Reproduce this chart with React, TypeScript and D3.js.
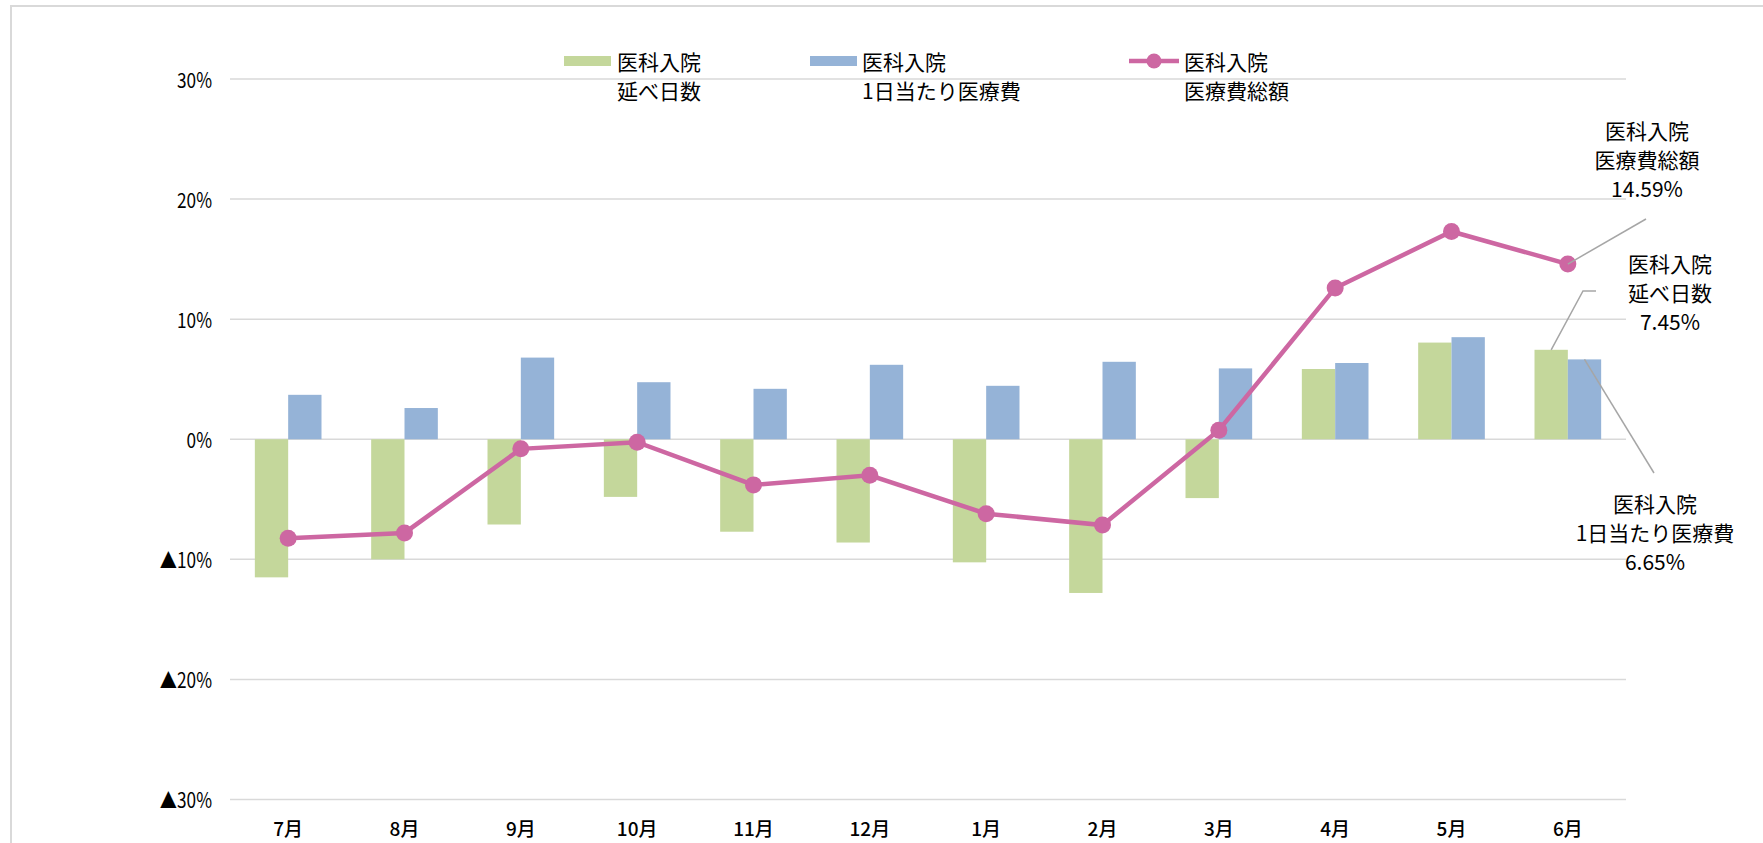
import React, { useEffect, useRef } from "react";
import * as d3 from "d3";

// データ（前年同月比, %）
const months = ["7月", "8月", "9月", "10月", "11月", "12月", "1月", "2月", "3月", "4月", "5月", "6月"];
const nissu = [-11.5, -10.0, -7.1, -4.8, -7.7, -8.6, -10.25, -12.8, -4.9, 5.85, 8.05, 7.45];
const ichinichi = [3.7, 2.6, 6.8, 4.75, 4.2, 6.2, 4.45, 6.45, 5.9, 6.35, 8.5, 6.65];
const sogaku = [-8.25, -7.8, -0.8, -0.25, -3.8, -3.0, -6.2, -7.15, 0.75, 12.6, 17.3, 14.59];
const yTicks = [30, 20, 10, 0, -10, -20, -30];

const GREEN = "#c4d79b";
const BLUE = "#95b3d7";
const PINK = "#cd67a2";
const GRID = "#d9d9d9";
const FONT = "'Noto Sans CJK JP', 'Noto Sans', sans-serif";

const Chart = () => {
  const svgRef = useRef<SVGSVGElement>(null);

  useEffect(() => {
    if (svgRef.current) drawChart();
  }, []);

  const drawChart = () => {
    const svg = d3.select(svgRef.current);
    svg.selectAll("*").remove();

    const x = d3.scaleBand().domain(months).range([230, 1626]).padding(0);
    const y = d3.scaleLinear().domain([-30, 30]).range([799.5, 79]);
    const barW = x.bandwidth() * 0.2865;
    const cx = (m: string) => (x(m) as number) + x.bandwidth() / 2;

    // 枠
    svg
      .append("path")
      .attr("d", "M11,843 V6 H1763")
      .attr("fill", "none")
      .attr("stroke", GRID)
      .attr("stroke-width", 2);

    // グリッド
    svg
      .append("g")
      .selectAll("line")
      .data(yTicks)
      .enter()
      .append("line")
      .attr("x1", 230)
      .attr("x2", 1626)
      .attr("y1", (d) => y(d))
      .attr("y2", (d) => y(d))
      .attr("stroke", GRID)
      .attr("stroke-width", 1.5);

    // Y軸ラベル
    svg
      .append("g")
      .selectAll("text")
      .data(yTicks)
      .enter()
      .append("text")
      .attr("transform", (d) => `translate(212, ${y(d)}) scale(0.82, 1)`)
      .attr("text-anchor", "end")
      .attr("dominant-baseline", "central")
      .attr("font-family", FONT)
      .attr("font-size", 21)
      .attr("fill", "#000")
      .text((d) => (d < 0 ? `▲${-d}%` : `${d}%`));

    // X軸ラベル
    svg
      .append("g")
      .selectAll("text")
      .data(months)
      .enter()
      .append("text")
      .attr("x", (d) => cx(d))
      .attr("y", 827)
      .attr("text-anchor", "middle")
      .attr("dominant-baseline", "central")
      .attr("font-family", FONT)
      .attr("font-size", 19)
      .attr("font-weight", 500)
      .attr("fill", "#000")
      .text((d) => d);

    // 棒（延べ日数）
    svg
      .append("g")
      .selectAll("rect")
      .data(nissu)
      .enter()
      .append("rect")
      .attr("x", (d, i) => cx(months[i]) - barW)
      .attr("y", (d) => y(Math.max(0, d)))
      .attr("width", barW)
      .attr("height", (d) => Math.abs(y(d) - y(0)))
      .attr("fill", GREEN);

    // 棒（1日当たり医療費）
    svg
      .append("g")
      .selectAll("rect")
      .data(ichinichi)
      .enter()
      .append("rect")
      .attr("x", (d, i) => cx(months[i]))
      .attr("y", (d) => y(Math.max(0, d)))
      .attr("width", barW)
      .attr("height", (d) => Math.abs(y(d) - y(0)))
      .attr("fill", BLUE);

    // 折れ線（医療費総額）
    const line = d3
      .line<number>()
      .x((d, i) => cx(months[i]))
      .y((d) => y(d));

    svg
      .append("path")
      .datum(sogaku)
      .attr("d", line)
      .attr("fill", "none")
      .attr("stroke", PINK)
      .attr("stroke-width", 4.5);

    svg
      .append("g")
      .selectAll("circle")
      .data(sogaku)
      .enter()
      .append("circle")
      .attr("cx", (d, i) => cx(months[i]))
      .attr("cy", (d) => y(d))
      .attr("r", 8.5)
      .attr("fill", PINK);

    // 凡例
    const legend = svg.append("g").attr("font-family", FONT).attr("font-size", 21).attr("fill", "#000");
    legend.append("rect").attr("x", 564).attr("y", 56).attr("width", 47).attr("height", 10).attr("fill", GREEN);
    legend.append("rect").attr("x", 810).attr("y", 56).attr("width", 47).attr("height", 10).attr("fill", BLUE);
    legend
      .append("line")
      .attr("x1", 1129)
      .attr("x2", 1179)
      .attr("y1", 61)
      .attr("y2", 61)
      .attr("stroke", PINK)
      .attr("stroke-width", 4.5);
    legend.append("circle").attr("cx", 1154).attr("cy", 61).attr("r", 7.5).attr("fill", PINK);

    const legendItems = [
      { x: 617, lines: ["医科入院", "延べ日数"] },
      { x: 862, lines: ["医科入院", "1日当たり医療費"] },
      { x: 1184, lines: ["医科入院", "医療費総額"] },
    ];
    legendItems.forEach((it) => {
      it.lines.forEach((t, k) => {
        legend
          .append("text")
          .attr("x", it.x)
          .attr("y", 61 + k * 29)
          .attr("dominant-baseline", "central")
          .text(t);
      });
    });

    // データラベル（6月）
    const last = months.length - 1;
    const lx = cx(months[last]);
    const leader = svg.append("g").attr("fill", "none").attr("stroke", "#a6a6a6").attr("stroke-width", 1.5);
    leader
      .append("path")
      .attr("d", `M${lx},${y(sogaku[last])} L1646,219`);
    leader
      .append("path")
      .attr("d", `M${lx - barW / 2},${y(nissu[last])} L1583,291 H1596`);
    leader
      .append("path")
      .attr("d", `M${lx + barW / 2},${y(ichinichi[last])} L1654,473`);

    const labels = [
      { x: 1647, y: 130, lines: ["医科入院", "医療費総額", `${sogaku[last].toFixed(2)}%`] },
      { x: 1670, y: 263, lines: ["医科入院", "延べ日数", `${nissu[last].toFixed(2)}%`] },
      { x: 1655, y: 503, lines: ["医科入院", "1日当たり医療費", `${ichinichi[last].toFixed(2)}%`] },
    ];
    const lab = svg.append("g").attr("font-family", FONT).attr("font-size", 21).attr("fill", "#000");
    labels.forEach((l) => {
      l.lines.forEach((t, k) => {
        lab
          .append("text")
          .attr("x", l.x)
          .attr("y", l.y + k * 29)
          .attr("text-anchor", "middle")
          .attr("dominant-baseline", "central")
          .text(t);
      });
    });
  };

  return (
    <div style={{ position: "absolute", left: 0, top: 0 }}>
      <svg ref={svgRef} width={1763} height={843} style={{ display: "block", background: "#fff" }}></svg>
    </div>
  );
};

export default function App() {
  return <Chart />;
}
